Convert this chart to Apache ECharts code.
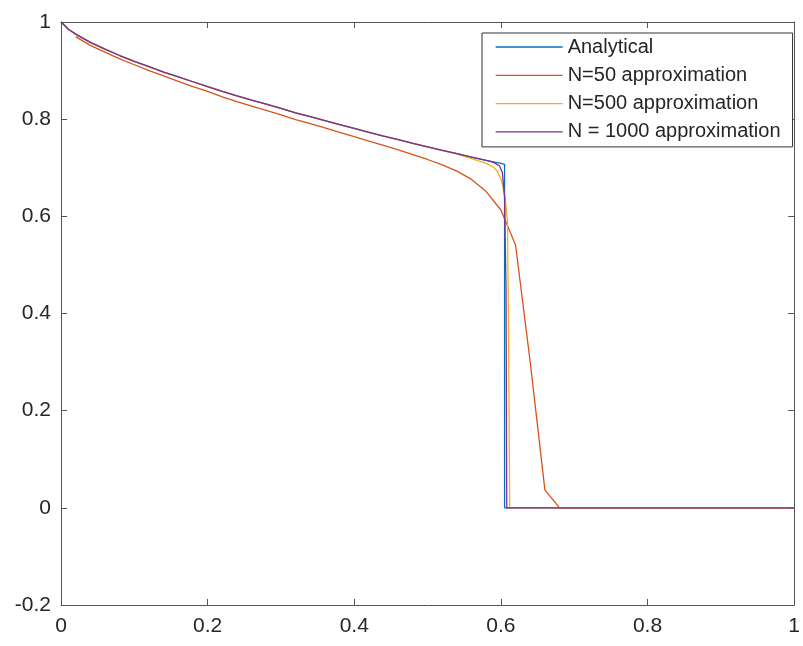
<!DOCTYPE html>
<html>
<head>
<meta charset="utf-8">
<script src="https://cdn.jsdelivr.net/npm/echarts@6/dist/echarts.min.js"></script>
<style>
html,body{margin:0;padding:0;background:#fff;}
#chart{width:803px;height:646px;}
</style>
</head>
<body>
<div id="chart"></div>
<script>
// ---- data ----
var seriesNames = ["Analytical", "N=50 approximation", "N=500 approximation", "N = 1000 approximation"];
var seriesColors = ["#0072BD", "#D95319", "#EDB120", "#7E2F8E"];

var xTicks = [0, 0.2, 0.4, 0.6, 0.8, 1];
var yTicks = [-0.2, 0, 0.2, 0.4, 0.6, 0.8, 1];

var anaX = [0, 0.01, 0.02, 0.04, 0.06, 0.08, 0.10, 0.12, 0.14, 0.16, 0.18, 0.20, 0.22, 0.24, 0.26, 0.28, 0.30, 0.32, 0.34, 0.36, 0.38, 0.40, 0.42, 0.44, 0.46, 0.48, 0.50, 0.52, 0.54, 0.56, 0.58, 0.60, 0.605, 0.605, 1.0];
var anaY = [1.000, 0.985, 0.975, 0.958, 0.944, 0.931, 0.919, 0.908, 0.897, 0.887, 0.877, 0.867, 0.857, 0.848, 0.839, 0.831, 0.822, 0.813, 0.805, 0.797, 0.789, 0.781, 0.773, 0.765, 0.758, 0.750, 0.743, 0.736, 0.729, 0.722, 0.715, 0.709, 0.707, 0, 0];

var n50X = [0.02, 0.04, 0.06, 0.08, 0.10, 0.12, 0.14, 0.16, 0.18, 0.20, 0.22, 0.24, 0.26, 0.28, 0.30, 0.32, 0.34, 0.36, 0.38, 0.40, 0.42, 0.44, 0.46, 0.48, 0.50, 0.52, 0.54, 0.56, 0.58, 0.60, 0.62, 0.64, 0.66, 0.68, 0.70, 0.72, 0.74, 0.76, 0.78, 0.80, 0.82, 0.84, 0.86, 0.88, 0.90, 0.92, 0.94, 0.96, 0.98, 1.00];
var n50Y = [0.970, 0.952, 0.938, 0.924, 0.912, 0.900, 0.889, 0.878, 0.867, 0.857, 0.846, 0.836, 0.827, 0.818, 0.809, 0.799, 0.791, 0.782, 0.773, 0.764, 0.755, 0.746, 0.737, 0.727, 0.717, 0.706, 0.693, 0.676, 0.651, 0.613, 0.541, 0.300, 0.037, 0, 0, 0, 0, 0, 0, 0, 0, 0, 0, 0, 0, 0, 0, 0, 0, 0];

var n500X = [0.002, 0.01, 0.02, 0.04, 0.06, 0.08, 0.10, 0.12, 0.14, 0.16, 0.18, 0.20, 0.22, 0.24, 0.26, 0.28, 0.30, 0.32, 0.34, 0.36, 0.38, 0.40, 0.42, 0.44, 0.46, 0.48, 0.50, 0.52, 0.54, 0.56, 0.58, 0.59, 0.595, 0.60, 0.603, 0.606, 0.609, 0.6105, 0.612, 1.0];
var n500Y = [0.997, 0.985, 0.975, 0.958, 0.944, 0.931, 0.919, 0.908, 0.897, 0.887, 0.877, 0.867, 0.857, 0.848, 0.839, 0.831, 0.822, 0.813, 0.805, 0.797, 0.789, 0.781, 0.773, 0.765, 0.758, 0.750, 0.743, 0.736, 0.728, 0.719, 0.709, 0.701, 0.693, 0.677, 0.660, 0.635, 0.590, 0.350, 0, 0];

var n1000X = [0.001, 0.01, 0.02, 0.04, 0.06, 0.08, 0.10, 0.12, 0.14, 0.16, 0.18, 0.20, 0.22, 0.24, 0.26, 0.28, 0.30, 0.32, 0.34, 0.36, 0.38, 0.40, 0.42, 0.44, 0.46, 0.48, 0.50, 0.52, 0.54, 0.56, 0.58, 0.59, 0.598, 0.602, 0.605, 0.607, 0.608, 1.0];
var n1000Y = [0.999, 0.985, 0.975, 0.958, 0.944, 0.931, 0.919, 0.908, 0.897, 0.887, 0.877, 0.867, 0.857, 0.848, 0.839, 0.831, 0.822, 0.813, 0.805, 0.797, 0.789, 0.781, 0.773, 0.765, 0.758, 0.750, 0.743, 0.736, 0.729, 0.722, 0.715, 0.711, 0.704, 0.690, 0.640, 0.450, 0, 0];

// ---- build ----
function pairs(xs, ys) { var out = []; for (var i = 0; i < xs.length; i++) out.push([xs[i], ys[i]]); return out; }
var seriesData = [pairs(anaX, anaY), pairs(n50X, n50Y), pairs(n500X, n500Y), pairs(n1000X, n1000Y)];

var FONT = '"Liberation Sans", Arial, sans-serif';
var AX = '#555555';
var TXT = '#262626';
function fmt(v) { return String(Number(v.toFixed(2))); }

function axisBase(min, max, step, pos, showLabel, isX) {
  return {
    type: 'value', min: min, max: max, interval: step, position: pos,
    splitLine: { show: false },
    axisLine: { show: true, onZero: false, lineStyle: { color: AX, width: 1 } },
    axisTick: { show: true, inside: true, length: 6, lineStyle: { color: AX, width: 1 } },
    axisLabel: { show: showLabel, inside: false, color: TXT, fontFamily: FONT, fontSize: 21,
      margin: isX ? 11 : 10, formatter: fmt, showMinLabel: true, showMaxLabel: true }
  };
}

var chart = echarts.init(document.getElementById('chart'), null, { renderer: 'canvas' });
chart.setOption({
  animation: false,
  backgroundColor: '#ffffff',
  grid: { left: 61, right: 6, top: 22, bottom: 41, containLabel: false },
  xAxis: [axisBase(xTicks[0], xTicks[xTicks.length - 1], 0.2, 'bottom', true, true),
          axisBase(xTicks[0], xTicks[xTicks.length - 1], 0.2, 'top', false, true)],
  yAxis: [axisBase(yTicks[0], yTicks[yTicks.length - 1], 0.2, 'left', true, false),
          axisBase(yTicks[0], yTicks[yTicks.length - 1], 0.2, 'right', false, false)],
  legend: {
    orient: 'vertical', left: 482, top: 33,
    padding: [4, 12, 5, 13],
    itemWidth: 67, itemHeight: 20, itemGap: 8.3, itemTextGap: 5,
    borderColor: '#333', borderWidth: 1, backgroundColor: '#ffffff',
    itemStyle: { opacity: 0 },
    lineStyle: { width: 1.3 },
    textStyle: { fontFamily: FONT, fontSize: 20, color: TXT, lineHeight: 20 },
    data: seriesNames
  },
  series: seriesNames.map(function (name, i) {
    return {
      name: name, type: 'line', data: seriesData[i], xAxisIndex: 0, yAxisIndex: 0,
      symbol: 'none', showSymbol: false, smooth: false, clip: true,
      lineStyle: { color: seriesColors[i], width: 1.3 },
      itemStyle: { color: seriesColors[i] },
      z: 2 + i
    };
  })
});
</script>
</body>
</html>
